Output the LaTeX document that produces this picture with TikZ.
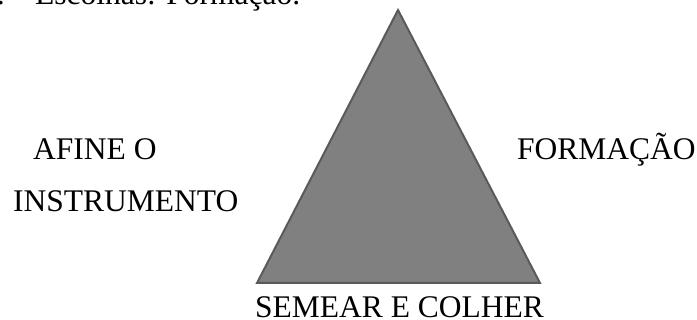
\documentclass[tikz,border=0pt]{standalone}
\usepackage{fontspec}
\setmainfont{Liberation Serif}
\usepackage{tikz}
\usetikzlibrary{positioning}
\definecolor{trifill}{HTML}{808080}
\definecolor{triedge}{HTML}{5A5A5A}

\begin{document}
\begin{tikzpicture}[x=1pt, y=-1pt, lbl/.style={anchor=base west, inner sep=0pt, font=\fontsize{31.5}{38}\selectfont}]
    \clip (0,0) rectangle (697,320);
    % heading cut off at the top
    \node[lbl, anchor=base east] (num) at (5,5) {7.};
    \node[lbl] (head) at (35,5) {Escolhas: Formação.};
    % triangle
    \coordinate (apex) at (398,10);
    \coordinate (bl) at (257,283);
    \coordinate (br) at (540,283);
    \draw[triedge, fill=trifill, line width=2pt, line join=miter] (apex) -- (bl) -- (br) -- cycle;
    \node[lbl] (afine) at (33,160) {AFINE O};
    \node[lbl] (instr) at (13,212) {INSTRUMENTO};
    \node[lbl] (form) at (517,160) {FORMAÇÃO};
    \node[lbl] (semear) at (255,318) {SEMEAR E COLHER};
\end{tikzpicture}
\end{document}
